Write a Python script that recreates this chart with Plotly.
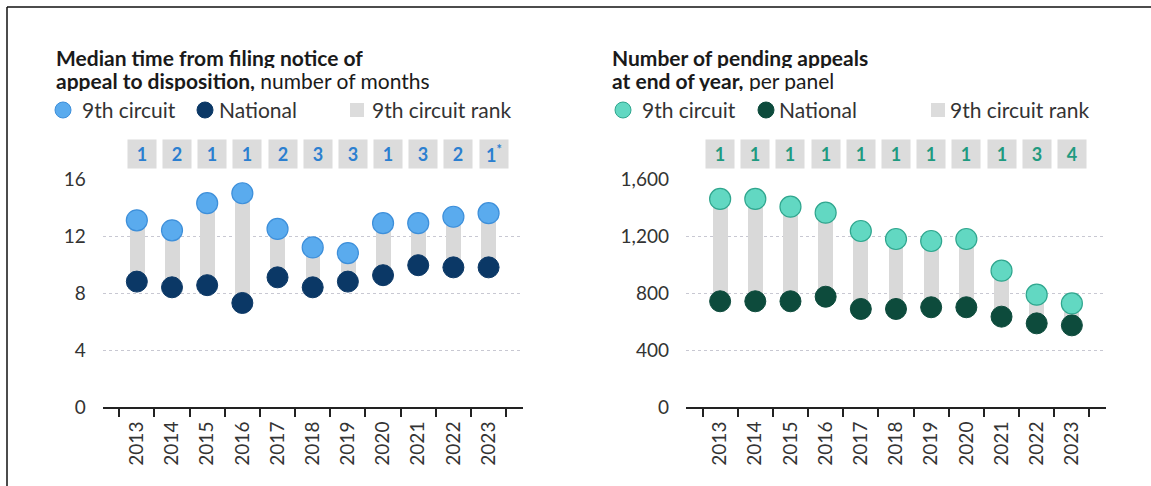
import plotly.graph_objects as go

years = ["2013", "2014", "2015", "2016", "2017", "2018", "2019", "2020", "2021", "2022", "2023"]

# Left panel: median months filing notice of appeal -> disposition
time_9th = [13.1, 12.4, 14.3, 15.0, 12.5, 11.2, 10.8, 12.9, 12.9, 13.35, 13.6]
time_nat = [8.8, 8.4, 8.55, 7.3, 9.1, 8.4, 8.8, 9.25, 9.95, 9.8, 9.8]
time_rank = ["1", "2", "1", "1", "2", "3", "3", "1", "3", "2", "1<sup>*</sup>"]

# Right panel: pending appeals per panel
pend_9th = [1460, 1460, 1406, 1364, 1235, 1179, 1165, 1179, 957, 788, 727]
pend_nat = [742, 742, 742, 774, 688, 688, 700, 700, 634, 587, 573]
pend_rank = ["1", "1", "1", "1", "1", "1", "1", "1", "1", "3", "4"]

left_ticks = [0, 4, 8, 12, 16]
right_ticks = [0, 400, 800, 1200, 1600]
right_ticktext = ["0", "400", "800", "1,200", "1,600"]

W, H = 1151, 486
FONT = "Lato"
TXT = "#333333"


def px(x):
    return x / W


def py(y):
    return 1 - y / H


fig = go.Figure()

panels = [
    dict(xa="x", ya="y", v9=time_9th, vn=time_nat, rank=time_rank,
         c9="#5aabee", c9l="#3d8fda", cn="#0b3866", rc="#2b7fd0",
         dom=[px(102.7), px(522.7)], rng=[0, 16], tv=left_ticks, tt=[str(t) for t in left_ticks],
         xshift=5),
    dict(xa="x2", ya="y2", v9=pend_9th, vn=pend_nat, rank=pend_rank,
         c9="#62d8c2", c9l="#2fa68e", cn="#0d4b3c", rc="#1f9a80",
         dom=[px(686), px(1106)], rng=[0, 1600], tv=right_ticks, tt=right_ticktext,
         xshift=0),
]

for p in panels:
    diff = [a - b for a, b in zip(p["v9"], p["vn"])]
    fig.add_trace(go.Bar(x=years, y=diff, base=p["vn"], width=0.42,
                         marker=dict(color="#d9d9d9", line=dict(width=0)),
                         xaxis=p["xa"], yaxis=p["ya"], showlegend=False, hoverinfo="skip"))
    fig.add_trace(go.Scatter(x=years, y=p["vn"], mode="markers",
                             marker=dict(size=21, color=p["cn"], line=dict(width=1, color=p["cn"])),
                             xaxis=p["xa"], yaxis=p["ya"], showlegend=False, cliponaxis=False))
    fig.add_trace(go.Scatter(x=years, y=p["v9"], mode="markers",
                             marker=dict(size=21, color=p["c9"], line=dict(width=1.2, color=p["c9l"])),
                             xaxis=p["xa"], yaxis=p["ya"], showlegend=False, cliponaxis=False))
    # rank boxes
    for i, r in enumerate(p["rank"]):
        fig.add_annotation(x=i, y=py(154), xref=p["xa"], yref="paper", text="<b>%s</b>" % r,
                           showarrow=False, bgcolor="#dcdcdc", width=26, height=26,
                           xanchor="center", yanchor="middle",
                           xshift=p["xshift"], font=dict(family=FONT, size=18, color=p["rc"]),
                           valign="middle", align="center")

axis_common = dict(type="category", showgrid=False, showline=True, linecolor="#222222", linewidth=2,
                   ticks="outside", tickson="boundaries", ticklen=8, tickwidth=2, tickcolor="#222222",
                   tickangle=-90, tickfont=dict(family=FONT, size=19, color=TXT), fixedrange=True,
                   automargin=False, ticklabelstandoff=5)

layout_axes = {}
for k, p in enumerate(panels):
    suffix = "" if k == 0 else "2"
    layout_axes["xaxis" + suffix] = dict(axis_common, domain=p["dom"], anchor="y" + suffix)
    layout_axes["yaxis" + suffix] = dict(domain=[py(407), py(179)], range=p["rng"], anchor="x" + suffix,
                                         tickvals=p["tv"], ticktext=p["tt"], showgrid=True,
                                         gridcolor="#c8c8d2", griddash="dot", gridwidth=1,
                                         zeroline=False, showline=False, ticks="",
                                         ticklabelstandoff=16, automargin=False,
                                         tickfont=dict(family=FONT, size=19, color=TXT), fixedrange=True)

fig.update_layout(width=W, height=H, margin=dict(l=0, r=0, t=0, b=0, autoexpand=False),
                  paper_bgcolor="white", plot_bgcolor="white", bargap=0, **layout_axes)

# titles
titles = [
    (54, "<b>Median time from filing notice of</b>", "<b>appeal to disposition,</b> number of months"),
    (610, "<b>Number of pending appeals</b>", "<b>at end of year,</b> per panel"),
]
for x0, l1, l2 in titles:
    fig.add_annotation(x=px(x0), y=py(57), xref="paper", yref="paper", text=l1, showarrow=False,
                       xanchor="left", yanchor="middle", height=22,
                       font=dict(family=FONT, size=21, color="#1a1a1a"))
    fig.add_annotation(x=px(x0), y=py(80), xref="paper", yref="paper", text=l2, showarrow=False,
                       xanchor="left", yanchor="middle", height=22,
                       font=dict(family=FONT, size=21, color="#1a1a1a"))

# legends
legends = [
    dict(c9=(63, 80), cn=(205, 217), rk=(357, 367), p=panels[0]),
    dict(c9=(623, 640), cn=(766, 777), rk=(938, 945), p=panels[1]),
]
for lg in legends:
    p = lg["p"]
    for (cx, tx), col, lcol, lab in [(lg["c9"], p["c9"], p["c9l"], "9th circuit"),
                                      (lg["cn"], p["cn"], p["cn"], "National")]:
        fig.add_shape(type="circle", xref="paper", yref="paper", xsizemode="pixel", ysizemode="pixel",
                      xanchor=px(cx), yanchor=py(110), x0=-8, x1=8, y0=-8, y1=8,
                      fillcolor=col, line=dict(color=lcol, width=1))
        fig.add_annotation(x=px(tx), y=py(110), xref="paper", yref="paper", text=lab, showarrow=False,
                           xanchor="left", yanchor="middle", font=dict(family=FONT, size=21, color=TXT))
    cx, tx = lg["rk"]
    fig.add_shape(type="rect", xref="paper", yref="paper", xsizemode="pixel", ysizemode="pixel",
                  xanchor=px(cx), yanchor=py(110), x0=-7, x1=7, y0=-7, y1=7,
                  fillcolor="#dcdcdc", line=dict(width=0))
    fig.add_annotation(x=px(tx + 3), y=py(110), xref="paper", yref="paper", text="9th circuit rank",
                       showarrow=False, xanchor="left", yanchor="middle",
                       font=dict(family=FONT, size=21, color=TXT))

# frame (left and top edges)
fig.add_shape(type="line", xref="paper", yref="paper", x0=px(7), x1=1, y0=py(7), y1=py(7),
              line=dict(color="#111111", width=1.5))
fig.add_shape(type="line", xref="paper", yref="paper", x0=px(7), x1=px(7), y0=0, y1=py(7),
              line=dict(color="#111111", width=1.5))

fix_page = (
    "var s=document.createElement('style');"
    "s.textContent='html,body{margin:0!important;padding:0!important;overflow:hidden!important;"
    "height:486px!important;width:1151px!important;}';"
    "document.head.appendChild(s);"
)
fig.write_html("out.html", config={"displayModeBar": False}, post_script=fix_page)
